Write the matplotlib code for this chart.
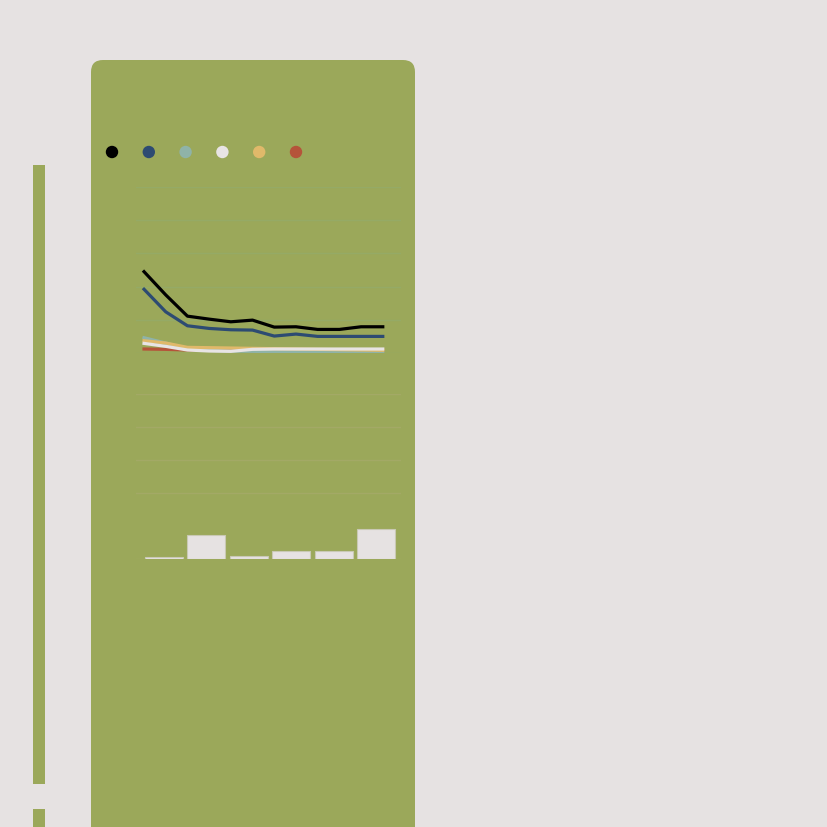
import numpy as np
import matplotlib.pyplot as plt
from matplotlib.patches import FancyBboxPatch, Rectangle, Circle

# line series (12 periods)
periods = np.arange(12)
black = [2.45, 1.75, 1.11, 1.02, 0.94, 0.99, 0.78, 0.79, 0.71, 0.71, 0.79, 0.79]
blue = [1.92, 1.24, 0.82, 0.74, 0.70, 0.69, 0.51, 0.57, 0.50, 0.50, 0.50, 0.50]
teal = [0.46, 0.30, 0.13, 0.08, 0.06, 0.05, 0.04, 0.04, 0.03, 0.03, 0.02, 0.02]
white = [0.29, 0.20, 0.09, 0.06, 0.05, 0.11, 0.12, 0.12, 0.12, 0.12, 0.12, 0.12]
yellow = [0.37, 0.30, 0.17, 0.16, 0.15, 0.14, 0.13, 0.12, 0.11, 0.10, 0.09, 0.08]
red = [0.12, 0.11, 0.09, 0.09, 0.09, 0.09, 0.08, 0.08, 0.08, 0.08, 0.08, 0.08]

# bar series
bar_cats = np.arange(6)
bar_vals = [0.06, 0.73, 0.10, 0.23, 0.23, 0.90]
bar_grid = [0, 2, 3, 4, 5]

BG = '#e6e2e2'
GREEN = '#9ba85a'
colors = ['#000000', '#2d4b72', '#8fb3a8', '#e8e4e4', '#e0b96a', '#b5543a']

W = H = 827
fig = plt.figure(figsize=(8.27, 8.27), dpi=100)
fig.patch.set_facecolor(BG)

# overlay in pixel coords for decoration
deco = fig.add_axes([0, 0, 1, 1])
deco.set_xlim(0, W)
deco.set_ylim(H, 0)
deco.axis('off')
deco.add_patch(FancyBboxPatch((91, 60), 324, 800, boxstyle='round,pad=0,rounding_size=12',
                              facecolor=GREEN, edgecolor='none'))
deco.add_patch(Rectangle((33, 165), 12, 619, facecolor=GREEN, edgecolor='none'))
deco.add_patch(Rectangle((33, 809), 12, 30, facecolor=GREEN, edgecolor='none'))
for i, c in enumerate(colors):
    deco.add_patch(Circle((112 + i * 36.8, 152), 6.2, facecolor=c, edgecolor='none'))


def box(x0, y0, x1, y1):
    return [x0 / W, 1 - y1 / H, (x1 - x0) / W, (y1 - y0) / H]


# line chart
ax = fig.add_axes(box(136, 187, 401, 353))
ax.patch.set_alpha(0)
ax.set_xlim(-0.37, 11.84)
ax.set_ylim(0, 5)
ax.set_yticks(np.arange(6))
ax.grid(axis='y', color='#95aa66', linewidth=1)
ax.set_axisbelow(True)
for s in ax.spines.values():
    s.set_visible(False)
ax.tick_params(left=False, bottom=False, labelleft=False, labelbottom=False)
ax.plot(periods, red, color=colors[5], lw=2.3, zorder=2)
ax.plot(periods, teal, color=colors[2], lw=2.3, zorder=3)
ax.plot(periods, yellow, color=colors[4], lw=2.3, zorder=4)
ax.plot(periods, white, color=colors[3], lw=2.3, zorder=5)
ax.plot(periods, blue, color=colors[1], lw=2.3, zorder=6)
ax.plot(periods, black, color=colors[0], lw=2.3, zorder=7)

# bar chart
bx = fig.add_axes(box(136, 394, 401, 559))
bx.patch.set_alpha(0)
bx.set_xlim(-0.66, 5.59)
bx.set_ylim(0, 5)
bx.set_yticks(bar_grid)
bx.grid(axis='y', color='#a3a966', linewidth=1)
bx.set_axisbelow(True)
for s in bx.spines.values():
    s.set_visible(False)
bx.tick_params(left=False, bottom=False, labelleft=False, labelbottom=False)
bx.bar(bar_cats, bar_vals, width=0.9, color=BG, edgecolor='#c9c9b4', linewidth=0.8)

fig.savefig('out.png', dpi=100, facecolor=BG)
